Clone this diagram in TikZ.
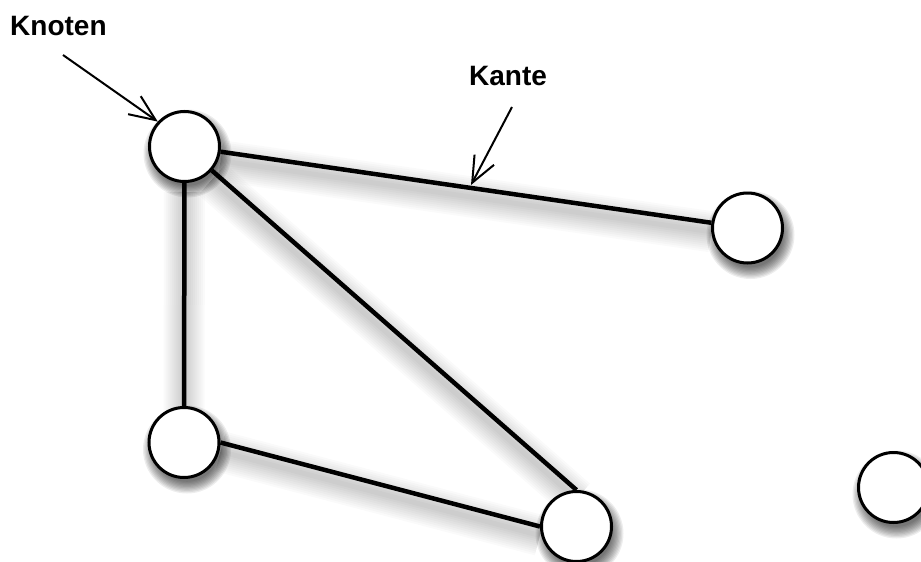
\documentclass[tikz,border=0pt]{standalone}
\usepackage{fontspec}
\setmainfont{Liberation Sans}
\usetikzlibrary{arrows.meta,calc}
\pgfdeclarelayer{shadow}
\pgfdeclarelayer{edges}
\pgfsetlayers{shadow,edges,main}
\begin{document}
\begin{tikzpicture}[x=1pt,y=-1pt,
  vertex/.style={circle,draw=black,line width=3pt,fill=white,minimum size=70pt,inner sep=0pt},
  edgeline/.style={line width=4.5pt},
  pointer/.style={line width=2pt,-{Straight Barb[length=26pt,width=22pt,line width=2pt]}},
  lbl/.style={font=\fontsize{28}{32}\selectfont\bfseries,inner sep=0pt,anchor=base west}]
\useasboundingbox (0,0) rectangle (921,562);
% nodes
\node[vertex] (A) at (184.5,146.5) {};
\node[vertex] (B) at (747.5,228) {};
\node[vertex] (C) at (184,442.5) {};
\node[vertex] (D) at (576.5,526.5) {};
\node[vertex] (E) at (893.5,487.5) {};
% edges
\begin{pgfonlayer}{edges}
\draw[edgeline] (A) -- (B);
\draw[edgeline] (A) -- (C);
\draw[edgeline] (A) -- (D.north);
\draw[edgeline] (C.east) -- (D.west);
\end{pgfonlayer}
% shadows
\begin{pgfonlayer}{shadow}
\fill[white] (0,0) rectangle (921,562);
\begin{scope}[transform canvas={xshift=3pt,yshift=-7pt}]
\foreach \k in {0,...,9}{
  \foreach \n in {A,B,C,D,E}{
    \fill[black,opacity=0.07] (\n) circle ({44-1.3*\k});
  }
}
\end{scope}
\begin{scope}[transform canvas={xshift=0pt,yshift=-9pt}]
\foreach \k in {0,...,9}{
  \draw[black,opacity=0.02,line width={5+4*\k}] (A) -- (B);
  \draw[black,opacity=0.02,line width={5+4*\k}] (A) -- (C);
  \draw[black,opacity=0.02,line width={5+4*\k}] (A) -- (D.north);
  \draw[black,opacity=0.02,line width={5+4*\k}] (C.east) -- (D.west);
}
\end{scope}
\end{pgfonlayer}
% labels and pointers
\node[lbl] (knoten) at (10,35) {Knoten};
\node[lbl] (kante) at (469,85) {Kante};
\coordinate (k1) at (63,55);
\coordinate (k2) at (512,107);
\coordinate (kt) at (471,185);
\draw[pointer] (k1) -- (A.137);
\draw[pointer] (k2) -- (kt);
\end{tikzpicture}
\end{document}
